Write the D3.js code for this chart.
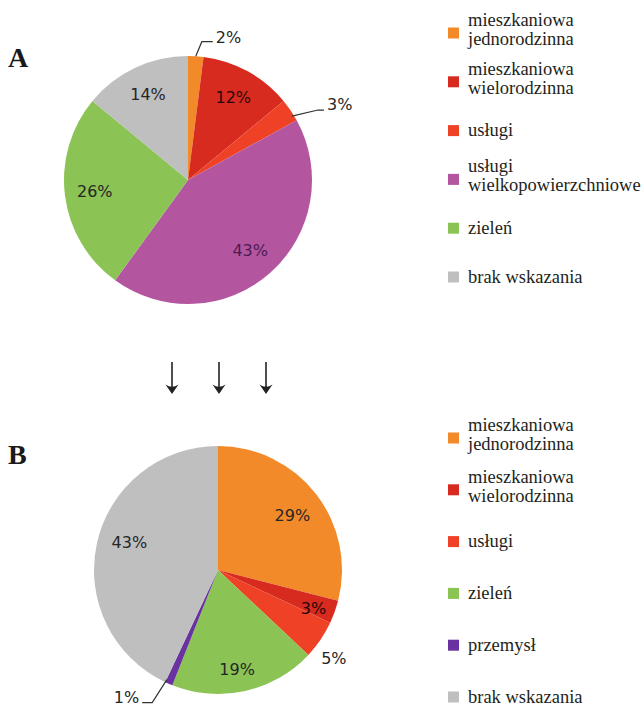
<!DOCTYPE html>
<html><head><meta charset="utf-8">
<script src="https://cdn.jsdelivr.net/npm/d3@7"></script>
<style>body{margin:0;background:#fff}svg{display:block}</style>
</head><body>
<svg id="c" width="643" height="707"></svg>
<script>
// ---------- DATA ----------
const categoriesA = ["mieszkaniowa\njednorodzinna","mieszkaniowa\nwielorodzinna","usługi","usługi\nwielkopowierzchniowe","zieleń","brak wskazania"];
const valuesA = [2, 12, 3, 43, 26, 14];
const categoriesB = ["mieszkaniowa\njednorodzinna","mieszkaniowa\nwielorodzinna","usługi","zieleń","przemysł","brak wskazania"];
const valuesB = [29, 3, 5, 19, 1, 43];
const panelLabels = ["A", "B"];

// ---------- STYLE ----------
const colorOf = {
  "mieszkaniowa\njednorodzinna": "#F38A2A",
  "mieszkaniowa\nwielorodzinna": "#D72B20",
  "usługi": "#EE4126",
  "usługi\nwielkopowierzchniowe": "#B4569F",
  "zieleń": "#8BC354",
  "przemysł": "#6A31A0",
  "brak wskazania": "#BFBFC0"
};
const labelColorOf = {
  "mieszkaniowa\nwielorodzinna": "#2a0606",
  "usługi\nwielkopowierzchniowe": "#4d1a52"
};

const charts = [
  { cats: categoriesA, vals: valuesA, cx: 188, cy: 180, r: 124, labelR: 94,
    panel: {x: 8, y: 67},
    legend: {y0: 33, step: 48.8},
    inner: {},
    outside: {
      0: {sr: 124, dsa: 0, er: 139, dea: 2.1, h: 11, side: 1, dy: -4},
      2: {sr: 122, dsa: 2.6, er: 147.6, dea: 5.9, h: 6, side: 1, dy: -5.5}
    } },
  { cats: categoriesB, vals: valuesB, cx: 218, cy: 570, r: 124, labelR: 95,
    panel: {x: 8, y: 464},
    legend: {y0: 438, step: 51.8},
    inner: {0: {r: 92, da: 1.7}, 1: {r: 103, da: 2.2}, 2: {r: 146, da: 3.3}, 3: {r: 101, da: 1.7}, 5: {r: 93, da: 4.9}},
    outside: {
      4: {sr: 121, dsa: 1.6, er: 148, dea: 3.0, h: 10, side: -1, dy: -5}
    } }
];

const svg = d3.select("#c");
svg.append("rect").attr("width", 643).attr("height", 707).attr("fill", "#fff");

const rad = d => d * Math.PI / 180;
const polar = (r, a) => [r * Math.sin(a), -r * Math.cos(a)];

charts.forEach((ch, ci) => {
  const data = ch.cats.map((c, i) => ({cat: c, v: ch.vals[i], i}));
  const pie = d3.pie().sort(null).value(d => d.v).startAngle(0).endAngle(2 * Math.PI);
  const arcs = pie(data);
  const arc = d3.arc().innerRadius(0).outerRadius(ch.r);
  const g = svg.append("g").attr("transform", `translate(${ch.cx},${ch.cy})`);

  g.selectAll("path.slice").data(arcs).join("path")
    .attr("class", "slice")
    .attr("d", arc)
    .attr("fill", d => colorOf[d.data.cat]);

  const labelArc = d3.arc().innerRadius(ch.labelR).outerRadius(ch.labelR);

  arcs.forEach((d, i) => {
    const mid = (d.startAngle + d.endAngle) / 2;
    const txt = d.data.v + "%";
    const col = labelColorOf[d.data.cat] || "#262626";
    const o = ch.outside[i];
    if (o) {
      const s = polar(o.sr, mid + rad(o.dsa));
      const e = polar(o.er, mid + rad(o.dea));
      const end = [e[0] + o.side * o.h, e[1]];
      g.append("path")
        .attr("d", d3.line()([s, e, end]))
        .attr("fill", "none").attr("stroke", "#333").attr("stroke-width", 1.2);
      g.append("text")
        .attr("x", end[0] + o.side * 3).attr("y", end[1] + o.dy)
        .attr("text-anchor", o.side > 0 ? "start" : "end")
        .attr("dominant-baseline", "central")
        .attr("font-family", "DejaVu Sans, Verdana, sans-serif")
        .attr("font-size", 16).attr("fill", col).text(txt);
    } else {
      const p = ch.inner[i];
      const pos = p ? polar(p.r, mid + rad(p.da)) : labelArc.centroid(d);
      g.append("text")
        .attr("x", pos[0]).attr("y", pos[1])
        .attr("text-anchor", "middle").attr("dominant-baseline", "central")
        .attr("font-family", "DejaVu Sans, Verdana, sans-serif")
        .attr("font-size", 16).attr("fill", col).text(txt);
    }
  });

  // panel letter
  svg.append("text").attr("x", ch.panel.x).attr("y", ch.panel.y)
    .attr("font-family", "Liberation Serif, Times New Roman, serif")
    .attr("font-weight", "bold").attr("font-size", 28).attr("fill", "#1a1a1a")
    .text(panelLabels[ci]);

  // legend
  const lg = svg.append("g");
  ch.cats.forEach((c, i) => {
    const cy = ch.legend.y0 + i * ch.legend.step;
    lg.append("rect").attr("x", 448).attr("y", cy - 5.5).attr("width", 11).attr("height", 11)
      .attr("fill", colorOf[c]);
    const lines = c.split("\n");
    const t = lg.append("text").attr("x", 468)
      .attr("font-family", "Liberation Serif, Times New Roman, serif")
      .attr("font-size", 18.5).attr("fill", "#231f20");
    if (lines.length === 1) {
      t.attr("y", cy + 5.5).text(lines[0]);
    } else {
      t.append("tspan").attr("x", 468).attr("y", cy - 7).text(lines[0]);
      t.append("tspan").attr("x", 468).attr("y", cy + 12).text(lines[1]);
    }
  });
});

// arrows between panels
const arrowOffsets = [-1, 0, 1];
const ag = svg.append("g");
arrowOffsets.forEach(k => {
  const x = 219 + k * 47;
  ag.append("line").attr("x1", x).attr("x2", x).attr("y1", 362).attr("y2", 391)
    .attr("stroke", "#222").attr("stroke-width", 1.6);
  ag.append("path")
    .attr("d", `M${x},394 L${x - 6.5},384.5 Q${x},389 ${x + 6.5},384.5 Z`)
    .attr("fill", "#222");
});
</script>
</body></html>
